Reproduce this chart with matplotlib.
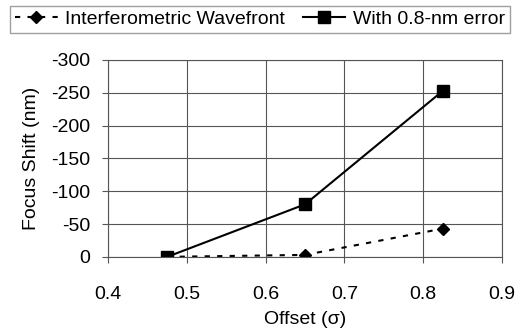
import matplotlib.pyplot as plt

# Offset (sigma) and focus shift values
offset = [0.475, 0.65, 0.825]
interferometric = [0, -3, -43]
with_error = [0, -80, -253]

plt.rcParams['font.family'] = ['Liberation Sans', 'DejaVu Sans']
plt.rcParams['font.size'] = 14
plt.rcParams['axes.unicode_minus'] = False

fig = plt.figure(figsize=(5.17, 3.31), dpi=100)
ax = fig.add_axes([0.209, 0.224, 0.762, 0.595])

ax.plot(offset, interferometric, linestyle=(0, (2.5, 3.5)), marker='D', markersize=6,
        color='black', lw=1.5, label='Interferometric Wavefront')
ax.plot(offset, with_error, '-s', markersize=8, color='black', lw=1.5,
        label='With 0.8-nm error')

ax.set_xlim(0.4, 0.9)
ax.set_ylim(0, -300)
ax.set_xticks([0.4, 0.5, 0.6, 0.7, 0.8, 0.9])
ax.set_yticks(range(0, -301, -50))
ax.tick_params(direction='out', length=4, color='#555555')
ax.tick_params(axis='x', pad=17)
ax.tick_params(axis='y', pad=9)
ax.grid(True, color='#555555', lw=0.8)
for s in ax.spines.values():
    s.set_color('#555555')

ax.set_xlabel('Offset (σ)', labelpad=6)
ax.set_ylabel('Focus Shift (nm)', labelpad=8)

leg = fig.legend(loc='upper center', bbox_to_anchor=(0.503, 0.995), ncol=2,
                 frameon=True, fancybox=False, handlelength=2.2,
                 columnspacing=0.9, borderpad=0.25, handletextpad=0.4,
                 borderaxespad=0.2)
leg.get_frame().set_edgecolor('#888888')
leg.get_frame().set_linewidth(1.0)

fig.savefig('out.png', dpi=100)
